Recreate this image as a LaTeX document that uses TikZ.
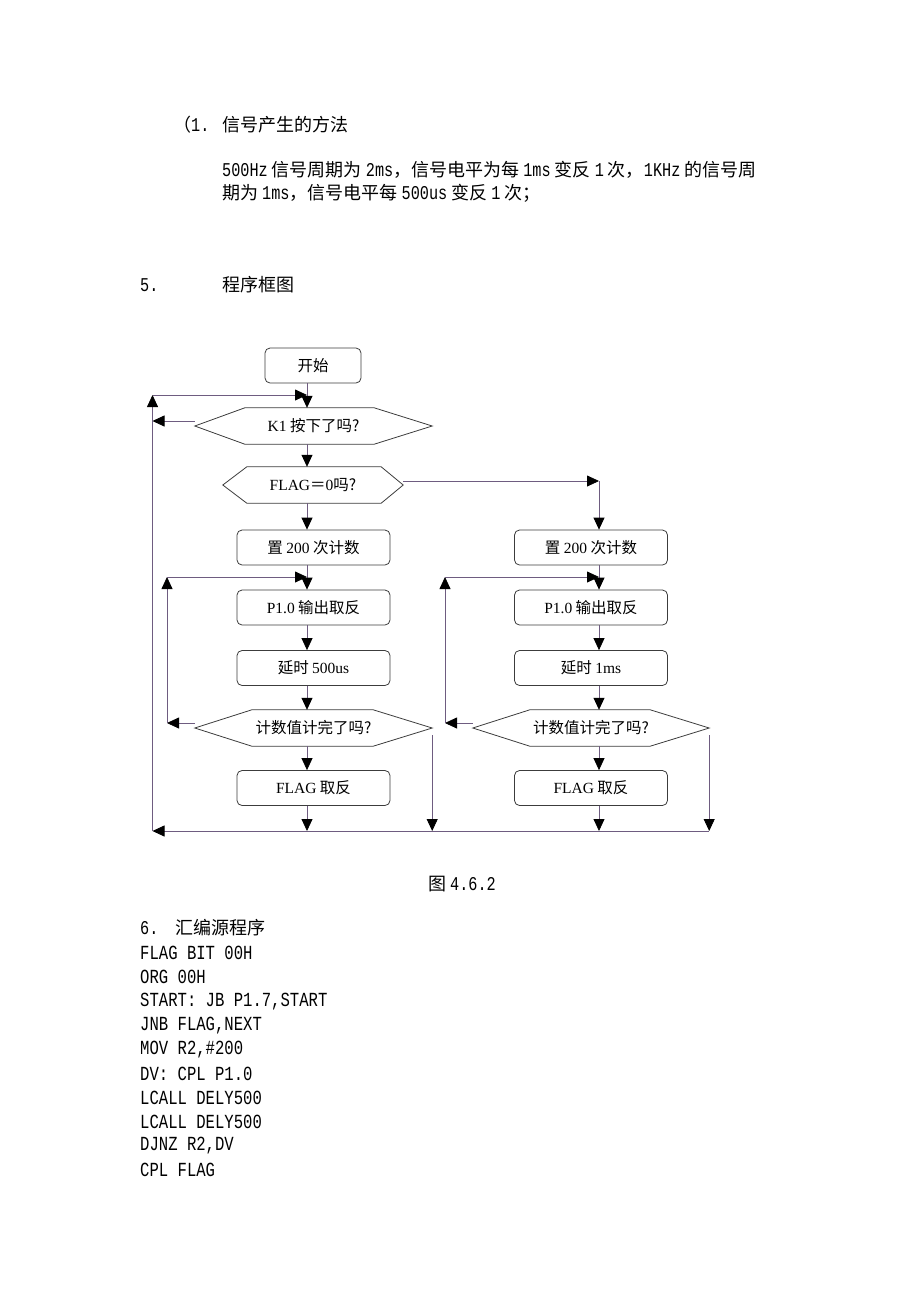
\documentclass[tikz,border=0pt]{standalone}
\usepackage{fontspec}
\setmainfont{Noto Sans CJK SC}
\newfontfamily\lat{Liberation Serif}
\newfontfamily\codefont[FakeStretch=0.78]{Liberation Mono}
\newcommand\cf[1]{{\codefont\fontsize{19.5}{20}\selectfont #1}}
\usetikzlibrary{arrows.meta}
\definecolor{wire}{RGB}{110,92,128}
\definecolor{boxline}{RGB}{60,60,60}

% hexagon outline round a test node: name, left slant, right slant
\newcommand\hexframe[3]{\draw[boxline,line width=0.8pt] (#1.west) -- ([xshift=#2]#1.north west) -- ([xshift=-#3]#1.north east) -- (#1.east) -- ([xshift=-#3]#1.south east) -- ([xshift=#2]#1.south west) -- cycle;}

\tikzset{
  proc/.style={draw=boxline,rounded corners=5pt,line width=0.8pt,minimum width=153pt,minimum height=35pt,inner sep=0pt,font=\fontsize{15.5}{17}\selectfont},
  test/.style={minimum height=36pt,inner sep=0pt,font=\fontsize{15.5}{17}\selectfont},
  arr/.style={draw=wire,line width=0.8pt,-{Triangle[length=12pt,width=11pt,color=black]}},
  txt/.style={anchor=west,inner sep=0pt,font=\fontsize{18}{20}\selectfont},
  code/.style={anchor=west,inner sep=0pt,font=\codefont\fontsize{20}{22}\selectfont},
}

\begin{document}
\begin{tikzpicture}[x=1pt,y=-1pt]
\useasboundingbox (0,0) rectangle (920,1302);

% text above
\node[txt] (h1n) at (173,125) {（\cf{1.}};
\node[txt] (h1) at (222,125) {信号产生的方法};
\node[txt] (p1) at (222,170) {\cf{500Hz} 信号周期为 \cf{2ms}，信号电平为每 \cf{1ms} 变反 \cf{1} 次，\cf{1KHz} 的信号周};
\node[txt] (p2) at (222,193) {期为 \cf{1ms}，信号电平每 \cf{500us} 变反 \cf{1} 次；};
\node[txt] (h5n) at (140,285) {\cf{5.}};
\node[txt] (h5) at (222,285) {程序框图};

% flow chart
\node[proc,minimum width=96pt] (start) at (313,365.5) {开始};
\node[test,minimum width=237pt] (k1) at (313.5,426) {{\lat K1} 按下了吗?};
\hexframe{k1}{50pt}{58pt}
\node[test,minimum width=180pt] (flag) at (313,485) {{\lat FLAG}＝{\lat 0}吗?};
\hexframe{flag}{24pt}{22pt}
\node[proc] (setL) at (313.5,547.5) {置 {\lat 200} 次计数};
\node[proc] (setR) at (591,547.5) {置 {\lat 200} 次计数};
\node[proc] (invL) at (313.5,607.5) {{\lat P1.0} 输出取反};
\node[proc] (invR) at (591,607.5) {{\lat P1.0} 输出取反};
\node[proc] (dlyL) at (313.5,668) {延时 {\lat 500us}};
\node[proc] (dlyR) at (591,668) {延时 {\lat 1ms}};
\node[test,minimum width=237pt] (cntL) at (313.5,728) {计数值计完了吗?};
\hexframe{cntL}{57pt}{59pt}
\node[test,minimum width=236pt] (cntR) at (591,728) {计数值计完了吗?};
\hexframe{cntR}{57pt}{59pt}
\node[proc] (flpL) at (313.5,788) {{\lat FLAG} 取反};
\node[proc] (flpR) at (591,788) {{\lat FLAG} 取反};

\coordinate (cl) at (307,0);
\coordinate (cr) at (599,0);
\coordinate (bl) at (152.5,831);
\coordinate (tl) at (152.5,395);
\coordinate (ll) at (167,577);
\coordinate (rl) at (445,577);

\draw[arr] (start.south -| cl) -- (k1.north -| cl);
\draw[arr] (k1.south -| cl) -- (flag.north -| cl);
\draw[arr] ([yshift=5pt]k1.west) -- ([yshift=5pt]k1.west -| tl);
\draw[arr] (flag.south -| cl) -- (setL.north -| cl);
\draw[arr] ([yshift=4pt]flag.east) -- ([yshift=4pt]flag.east -| cr);
\draw[arr] ([yshift=4pt]flag.east -| cr) -- (setR.north -| cr);

% left branch
\draw[arr] (setL.south -| cl) -- (invL.north -| cl);
\draw[arr] (invL.south -| cl) -- (dlyL.north -| cl);
\draw[arr] (dlyL.south -| cl) -- (cntL.north -| cl);
\draw[arr] (cntL.south -| cl) -- (flpL.north -| cl);
\draw[arr] (flpL.south -| cl) -- (bl -| cl);
\draw[arr] ([yshift=5pt]cntL.west) -- ([yshift=5pt]cntL.west -| ll);
\draw[arr] ([yshift=5pt]cntL.west -| ll) -- (ll);
\draw[arr] (ll) -- (ll -| cl);
\draw[arr] ([yshift=-7pt]cntL.east) -- (cntL.east |- bl);

% right branch
\draw[arr] (setR.south -| cr) -- (invR.north -| cr);
\draw[arr] (invR.south -| cr) -- (dlyR.north -| cr);
\draw[arr] (dlyR.south -| cr) -- (cntR.north -| cr);
\draw[arr] (cntR.south -| cr) -- (flpR.north -| cr);
\draw[arr] (flpR.south -| cr) -- (bl -| cr);
\draw[arr] ([yshift=5pt]cntR.west) -- ([yshift=5pt]cntR.west -| rl);
\draw[arr] ([yshift=5pt]cntR.west -| rl) -- (rl);
\draw[arr] (rl) -- (rl -| cr);
\draw[arr] ([yshift=-7pt]cntR.east) -- (cntR.east |- bl);

% back to the top
\draw[arr] (cntR.east |- bl) -- (bl);
\draw[arr] (bl) -- (tl);
\draw[arr] (tl) -- (tl -| cl);

\node[txt] (cap) at (428,884) {图 \cf{4.6.2}};

% program text
\node[txt] (h6n) at (140,928) {\cf{6.}};
\node[txt] (h6) at (175,928) {汇编源程序};
\foreach \t [count=\i from 0] in {{FLAG BIT 00H},{ORG 00H},{START: JB P1.7,START},{JNB FLAG,NEXT},{MOV R2,\#200},{DV: CPL P1.0},{LCALL DELY500},{LCALL DELY500},{DJNZ R2,DV},{CPL FLAG}}
  \node[code] (code\i) at (140,953+24.1*\i) {\t};
\end{tikzpicture}
\end{document}
